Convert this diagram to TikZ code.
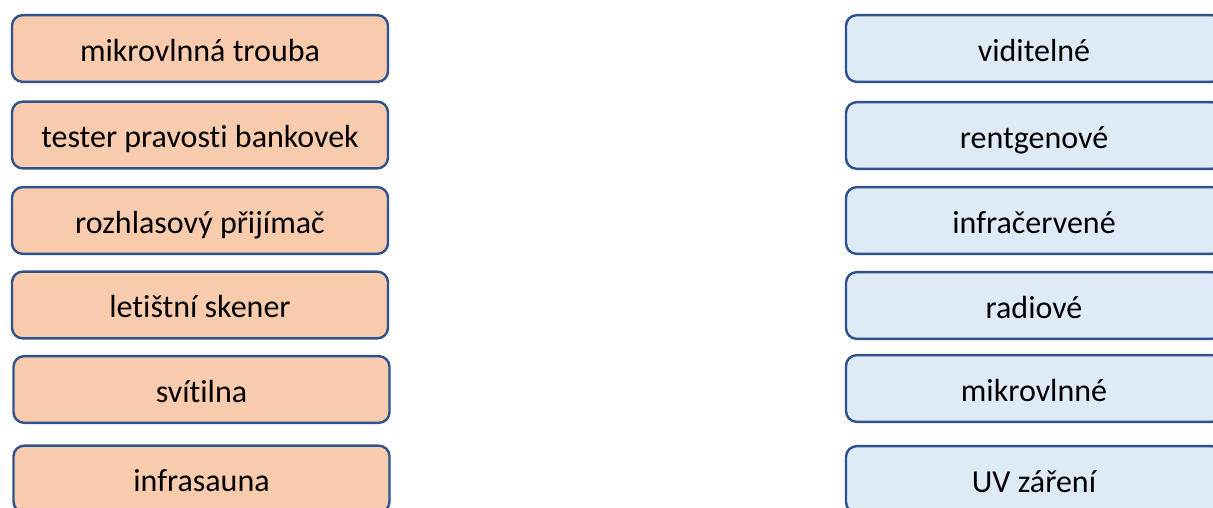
\documentclass[tikz,border=0pt]{standalone}
\usepackage{fontspec}
\setmainfont{Carlito}[Ligatures=NoCommon]
\definecolor{lfill}{HTML}{F8CBAD}
\definecolor{rfill}{HTML}{DEEBF7}
\definecolor{bord}{HTML}{2F528F}
\begin{document}
\begin{tikzpicture}[x=0.75pt,y=-0.75pt,
  card/.style={draw=bord,line width=1.8pt,rounded corners=8pt,
    minimum width=282pt,minimum height=50pt,inner sep=0pt,
    text height=18.8pt,text depth=0pt,
    font=\fontsize{24}{28}\selectfont,text=black},
  lcard/.style={card,fill=lfill},
  rcard/.style={card,fill=rfill}]
\useasboundingbox (0,0) rectangle (1213,507);
\clip (0,0) rectangle (1213,507);
\node[lcard] (l1) at (200,48.5) {mikrovlnná trouba};
\node[lcard] (l2) at (200,135) {tester pravosti bankovek};
\node[lcard] (l3) at (200,220.5) {rozhlasový přijímač};
\node[lcard] (l4) at (200,305) {letištní skener};
\node[lcard] (l5) at (201.5,389.5) {svítilna};
\node[lcard] (l6) at (201.5,479) {infrasauna};
\node[rcard] (r1) at (1034,48.5) {viditelné};
\node[rcard] (r2) at (1034,135.5) {rentgenové};
\node[rcard] (r3) at (1034,220.5) {infračervené};
\node[rcard] (r4) at (1034,305.5) {radiové};
\node[rcard] (r5) at (1034,388.5) {mikrovlnné};
\node[rcard] (r6) at (1034,479.5) {UV záření};
\end{tikzpicture}
\end{document}
